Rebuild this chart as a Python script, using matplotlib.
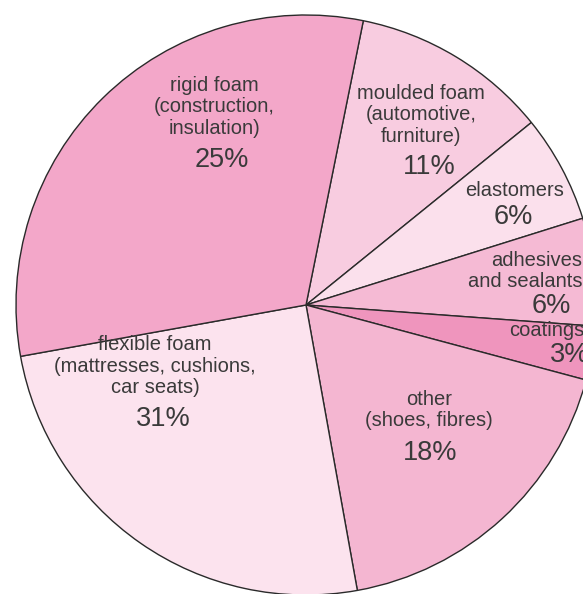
import matplotlib
matplotlib.use("Agg")
import matplotlib.pyplot as plt

# Wedge sizes as drawn in the picture (clockwise from the top boundary)
categories = ["moulded foam", "elastomers", "adhesives and sealants", "coatings",
              "other", "flexible foam", "rigid foam"]
shares = [11, 6, 6, 3, 18, 25, 31]
# Text printed in each wedge
descriptions = ["moulded foam\n(automotive,\nfurniture)", "elastomers",
                "adhesives\nand sealants", "coatings", "other\n(shoes, fibres)",
                "flexible foam\n(mattresses, cushions,\ncar seats)",
                "rigid foam\n(construction,\ninsulation)"]
printed_pct = ["11%", "6%", "6%", "3%", "18%", "31%", "25%"]
colors = ["#F8CCE0", "#FBE0EC", "#F5BAD4", "#EF95BD", "#F4B6D1", "#FCE3EE", "#F3A7C9"]

W, H = 583, 594
fig = plt.figure(figsize=(W / 100, H / 100), dpi=100)
ax = fig.add_axes([0, 0, 1, 1])

cx, cy, r = 306, H - 305, 290
ax.pie(shares, colors=colors, startangle=78.6, counterclock=False,
       center=(cx, cy), radius=r, frame=True,
       wedgeprops=dict(edgecolor="#2a2a2a", linewidth=1.0))
ax.set_xlim(0, W)
ax.set_ylim(0, H)
ax.set_aspect("equal")
ax.axis("off")

# label positions (pixel coords, top-left origin):
# (x_desc, y_desc_center, x_pct, y_pct, align)
pos = [
    (421, 115, 429, 167, "center"),
    (515, 190, 513, 217, "center"),
    (582, 271, 551, 306, "right"),
    (584, 330, 570, 355, "right"),
    (429, 410, 430, 453, "center"),
    (155, 366, 163, 419, "center"),
    (214, 107, 222, 160, "center"),
]
font = ["Liberation Sans", "DejaVu Sans"]
for desc, pct, (xd, yd, xp, yp, al) in zip(descriptions, printed_pct, pos):
    ax.text(xd, H - yd, desc, ha=al, va="center", fontsize=14.5, multialignment=al,
            family=font, color="#3a3a3a", linespacing=1.18)
    ax.text(xp, H - yp, pct, ha="center", va="center", fontsize=19.5,
            family=font, color="#3a3a3a")

fig.savefig("out.png", dpi=100)
